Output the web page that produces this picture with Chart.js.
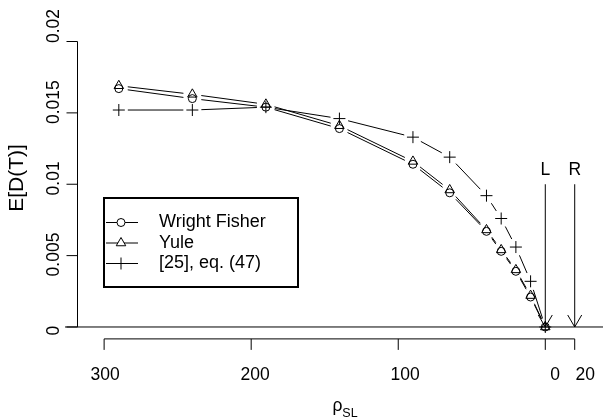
<!DOCTYPE html>
<html>
<head>
<meta charset="utf-8">
<script src="https://cdn.jsdelivr.net/npm/chart.js@4.4.1/dist/chart.umd.min.js"></script>
<style>
  body { margin: 0; background: #fff; }
</style>
</head>
<body>
<canvas id="grafico" width="603" height="418"></canvas>
<script>
// valores
const rhoValues = [290, 240, 190, 140, 90, 65, 40, 30, 20, 10, 0];
const wrightFisher = [0.0167, 0.0160, 0.0154, 0.0139, 0.0114, 0.0094, 0.0067, 0.0053, 0.0039, 0.0021, 0];
const yule = [0.0169, 0.0163, 0.0156, 0.0141, 0.0116, 0.0096, 0.0068, 0.0054, 0.0040, 0.0022, 0];
const eq47 = [0.0152, 0.0152, 0.0154, 0.0146, 0.0133, 0.0119, 0.0092, 0.0076, 0.0056, 0.0032, 0];
const seriesNames = ["Wright Fisher", "Yule", "[25], eq. (47)"];

const xTicks = [300, 200, 100, 0, -20];
const xTickLabels = ["300", "200", "100", "0", "20"];
const yTicks = [0, 0.005, 0.01, 0.015, 0.02];
const yTickLabels = ["0", "0.005", "0.01", "0.015", "0.02"];

const arrowX = [0, -20];
const arrowLabels = ["L", "R"];
const arrowTop = 0.01;
const arrowLabelY = 0.011;

const fuente = '"Liberation Sans", Arial, sans-serif';
const gap = 9;

function puntos(ys) {
  return rhoValues.map(function (x, i) {
    return { x: x, y: ys[i] };
  });
}

const estilos = [
  { pointStyle: "circle", radius: 4 },
  { pointStyle: "triangle", radius: 5.5 },
  { pointStyle: "cross", radius: 6 },
];

// lineas tipo "b" de R: segmentos con hueco alrededor de cada punto
const lineasB = {
  id: "lineasB",
  afterDatasetsDraw(chart) {
    const ctx = chart.ctx;
    ctx.save();
    ctx.strokeStyle = "#000";
    ctx.lineWidth = 1;
    chart.data.datasets.forEach(function (ds, i) {
      const pts = chart.getDatasetMeta(i).data;
      for (let j = 0; j < pts.length - 1; j++) {
        const p = pts[j], q = pts[j + 1];
        const dx = q.x - p.x, dy = q.y - p.y;
        const len = Math.sqrt(dx * dx + dy * dy);
        if (len <= 2 * gap) continue;
        const ux = dx / len, uy = dy / len;
        ctx.beginPath();
        ctx.moveTo(p.x + ux * gap, p.y + uy * gap);
        ctx.lineTo(q.x - ux * gap, q.y - uy * gap);
        ctx.stroke();
      }
    });
    ctx.restore();
  },
};

const ejesR = {
  id: "ejesR",
  beforeDatasetsDraw(chart) {
    const ctx = chart.ctx;
    const area = chart.chartArea;
    const sx = chart.scales.x, sy = chart.scales.y;
    const lx = chart.scales.xLab, ly = chart.scales.yLab;
    ctx.save();
    ctx.strokeStyle = "#000";
    ctx.fillStyle = "#000";
    ctx.lineWidth = 1;

    // linea horizontal en 0
    const y0 = sy.getPixelForValue(0);
    ctx.beginPath();
    ctx.moveTo(area.left, y0);
    ctx.lineTo(area.right, y0);
    ctx.stroke();

    // eje y
    const axX = area.left + 12.5;
    ctx.beginPath();
    ctx.moveTo(axX, sy.getPixelForValue(yTicks[0]));
    ctx.lineTo(axX, sy.getPixelForValue(yTicks[yTicks.length - 1]));
    yTicks.forEach(function (v) {
      const py = sy.getPixelForValue(v);
      ctx.moveTo(axX - 11, py);
      ctx.lineTo(axX, py);
    });
    ctx.stroke();
    ctx.font = "17.5px " + fuente;
    ctx.textAlign = "center";
    ctx.textBaseline = "middle";
    yTicks.forEach(function (v, i) {
      ctx.save();
      ctx.translate(axX - 23.5, ly.getPixelForValue(v));
      ctx.rotate(-Math.PI / 2);
      ctx.fillText(yTickLabels[i], 0, 0);
      ctx.restore();
    });

    // eje x
    const axY = area.bottom + 0.5;
    ctx.beginPath();
    ctx.moveTo(sx.getPixelForValue(xTicks[0]), axY);
    ctx.lineTo(sx.getPixelForValue(xTicks[xTicks.length - 1]), axY);
    xTicks.forEach(function (v) {
      const px = sx.getPixelForValue(v);
      ctx.moveTo(px, axY);
      ctx.lineTo(px, axY + 11);
    });
    ctx.stroke();
    xTicks.forEach(function (v, i) {
      ctx.fillText(xTickLabels[i], lx.getPixelForValue(v), axY + 36);
    });

    // titulos
    ctx.save();
    ctx.font = "21px " + fuente;
    ctx.translate(17.5, 178);
    ctx.rotate(-Math.PI / 2);
    ctx.fillText("E[D(T)]", 0, 0);
    ctx.restore();

    ctx.textAlign = "left";
    ctx.textBaseline = "alphabetic";
    ctx.font = "17.5px " + fuente;
    const wRho = ctx.measureText("ρ").width;
    ctx.font = "12.5px " + fuente;
    const wSub = ctx.measureText("SL").width;
    const x0 = area.left + 280 - (wRho + wSub) / 2;
    ctx.font = "17.5px " + fuente;
    ctx.fillText("ρ", x0, 410.5);
    ctx.font = "12.5px " + fuente;
    ctx.fillText("SL", x0 + wRho, 417);

    // flechas L y R
    ctx.font = "17.5px " + fuente;
    ctx.textAlign = "center";
    ctx.textBaseline = "middle";
    arrowX.forEach(function (v, i) {
      const px = sx.getPixelForValue(v);
      const top = sy.getPixelForValue(arrowTop);
      ctx.beginPath();
      ctx.moveTo(px, top);
      ctx.lineTo(px, y0);
      ctx.moveTo(px - 7, y0 - 12);
      ctx.lineTo(px, y0);
      ctx.lineTo(px + 7, y0 - 12);
      ctx.stroke();
      ctx.fillText(arrowLabels[i], px, sy.getPixelForValue(arrowLabelY));
    });
    ctx.restore();
  },
  afterDraw(chart) {
    // leyenda
    const ctx = chart.ctx;
    ctx.save();
    ctx.fillStyle = "#fff";
    ctx.fillRect(104, 198, 194, 89);
    ctx.strokeStyle = "#000";
    ctx.lineWidth = 2;
    ctx.strokeRect(104, 198, 194, 89);
    ctx.lineWidth = 1;
    ctx.font = "18px " + fuente;
    ctx.textAlign = "left";
    ctx.textBaseline = "middle";
    seriesNames.forEach(function (name, i) {
      const y = 222.5 + i * 20.5;
      const cx = 121;
      const st = estilos[i];
      ctx.strokeStyle = "#000";
      ctx.beginPath();
      ctx.moveTo(106, y);
      ctx.lineTo(138, y);
      ctx.stroke();
      ctx.fillStyle = "#fff";
      Chart.helpers.drawPoint(ctx, { pointStyle: st.pointStyle, radius: st.radius, borderWidth: 1, rotation: 0 }, cx, y);
      ctx.fillStyle = "#000";
      ctx.fillText(name, 159, y);
    });
    ctx.restore();
  },
};

const datasets = [wrightFisher, yule, eq47].map(function (serie, i) {
  return {
    label: seriesNames[i],
    data: puntos(serie),
    showLine: false,
    pointStyle: estilos[i].pointStyle,
    pointRadius: estilos[i].radius,
    pointBorderWidth: 1,
    pointBorderColor: "#000",
    pointBackgroundColor: "rgba(0,0,0,0)",
    clip: false,
  };
});

new Chart(document.getElementById("grafico").getContext("2d"), {
  type: "scatter",
  data: { datasets: datasets },
  plugins: [ejesR, lineasB],
  options: {
    responsive: false,
    animation: false,
    devicePixelRatio: 1,
    layout: { autoPadding: false, padding: { left: 65, right: 0, top: 29.6, bottom: 79.6 } },
    plugins: { legend: { display: false }, tooltip: { enabled: false } },
    scales: {
      x: { type: "linear", reverse: true, min: -39.24, max: 326.6, display: false },
      y: { type: "linear", min: -0.000799, max: 0.020834, display: false },
      xLab: { type: "linear", axis: "x", reverse: true, min: -31.87, max: 326.8, display: false },
      yLab: { type: "linear", axis: "y", min: -0.000505, max: 0.019764, display: false },
    },
  },
});
</script>
</body>
</html>
